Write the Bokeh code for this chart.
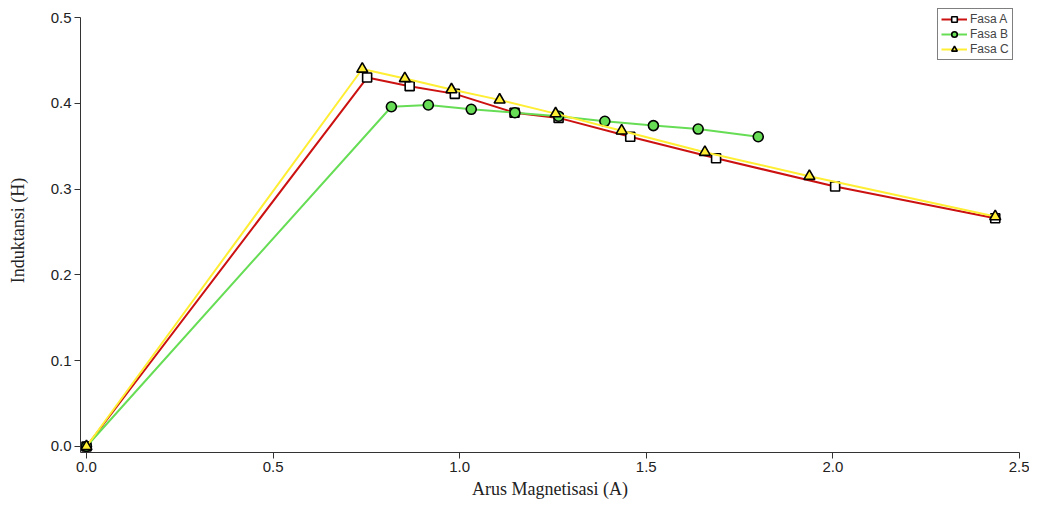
from bokeh.plotting import figure
from bokeh.models import Range1d, FixedTicker, Legend, LegendItem, CustomJSTickFormatter
from bokeh.embed import file_html
from bokeh.resources import INLINE

# Data
fasa_a_x = [0.0, 0.752, 0.866, 0.987, 1.147, 1.265, 1.457, 1.687, 2.006, 2.435]
fasa_a_y = [0.0, 0.430, 0.420, 0.411, 0.389, 0.383, 0.361, 0.336, 0.303, 0.266]

fasa_b_x = [0.0, 0.817, 0.916, 1.031, 1.148, 1.265, 1.389, 1.519, 1.639, 1.800]
fasa_b_y = [0.0, 0.396, 0.398, 0.393, 0.389, 0.385, 0.379, 0.374, 0.370, 0.361]

fasa_c_x = [0.0, 0.739, 0.853, 0.978, 1.107, 1.257, 1.434, 1.657, 1.937, 2.435]
fasa_c_y = [0.0, 0.440, 0.429, 0.416, 0.404, 0.388, 0.368, 0.343, 0.315, 0.268]

x_ticks = [0.0, 0.5, 1.0, 1.5, 2.0, 2.5]
y_ticks = [0.0, 0.1, 0.2, 0.3, 0.4, 0.5]

p = figure(width=1029, height=503, output_backend="svg", toolbar_location=None,
           x_range=Range1d(-0.016, 2.5), y_range=Range1d(-0.007, 0.5105),
           min_border_left=80, min_border_right=10, min_border_top=8, min_border_bottom=51)
p.outline_line_color = None
p.grid.visible = False
p.background_fill_color = "white"

for ax in (p.xaxis[0], p.yaxis[0]):
    ax.axis_line_color = "#333333"
    ax.major_tick_line_color = "#333333"
    ax.minor_tick_line_color = None
    ax.major_tick_out = 6
    ax.major_tick_in = 0
    ax.major_label_text_font = "Liberation Sans"
    ax.major_label_text_font_size = "15px"
    ax.major_label_text_color = "#222222"
    ax.major_label_standoff = 3
    ax.axis_label_text_font = "Liberation Serif"
    ax.axis_label_text_font_size = "18px"
    ax.axis_label_text_font_style = "normal"
    ax.axis_label_text_color = "#222222"

p.yaxis.bounds = (-0.007, 0.5)
p.xaxis.ticker = FixedTicker(ticks=x_ticks)
p.yaxis.ticker = FixedTicker(ticks=y_ticks)
p.xaxis.formatter = CustomJSTickFormatter(code="return tick.toFixed(1);")
p.yaxis.formatter = CustomJSTickFormatter(code="return tick.toFixed(1);")
p.xaxis.axis_label = "Arus Magnetisasi (A)"
p.yaxis.axis_label = "Induktansi (H)"
p.xaxis.axis_label_standoff = 4
p.yaxis.axis_label_standoff = 20

red = "#cc1111"
green = "#66dd55"
yellow = "#ffee33"

la = p.line(fasa_a_x, fasa_a_y, line_color=red, line_width=2)
ma = p.scatter(fasa_a_x, fasa_a_y, marker="square", size=9, fill_color="white",
               line_color="black", line_width=1.6)
lb = p.line(fasa_b_x, fasa_b_y, line_color=green, line_width=2)
mb = p.scatter(fasa_b_x, fasa_b_y, marker="circle", size=10, fill_color=green,
               line_color="black", line_width=1.6)
lc = p.line(fasa_c_x, fasa_c_y, line_color=yellow, line_width=2)
mc = p.scatter(fasa_c_x, fasa_c_y, marker="triangle", size=11, fill_color=yellow,
               line_color="black", line_width=1.6)

legend = Legend(items=[
    LegendItem(label="Fasa A", renderers=[la, ma]),
    LegendItem(label="Fasa B", renderers=[lb, mb]),
    LegendItem(label="Fasa C", renderers=[lc, mc]),
], location=(857, 392))
legend.label_text_font = "Liberation Sans"
legend.label_text_font_size = "12px"
legend.label_height = 14
legend.glyph_height = 14
legend.glyph_width = 26
legend.label_standoff = 3
legend.spacing = 1
legend.padding = 3
legend.margin = 0
legend.border_line_color = "black"
legend.border_line_width = 1.5
legend.background_fill_alpha = 1
p.add_layout(legend, "center")

open("out.html", "w").write(file_html(p, INLINE))
